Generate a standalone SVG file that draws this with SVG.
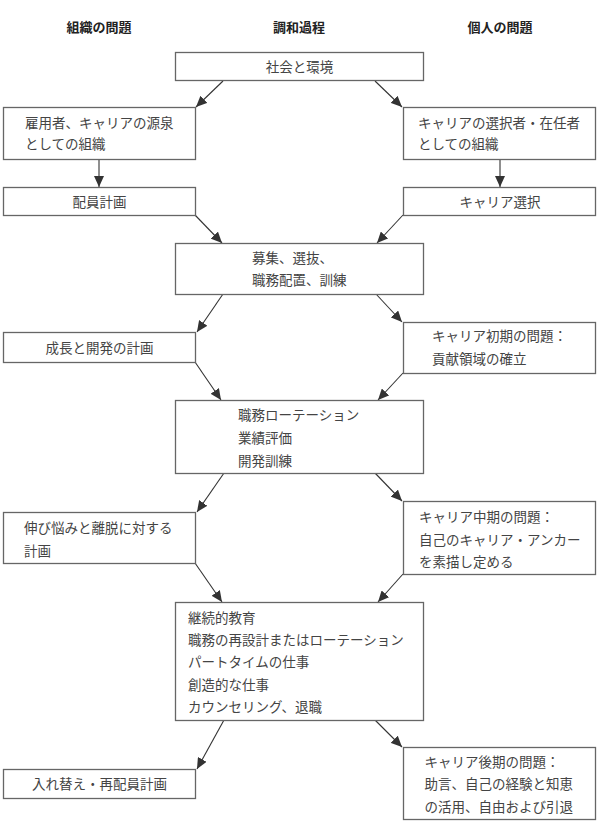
<svg xmlns="http://www.w3.org/2000/svg" width="597" height="832" viewBox="0 0 597 832">
<defs>
<marker id="ah" markerUnits="userSpaceOnUse" markerWidth="12" markerHeight="10" refX="11" refY="5" orient="auto">
<path d="M0,0 L11,5 L0,10 Z" fill="#333"/>
</marker>
<style>
.box{fill:#fff;stroke:#666;stroke-width:1.3}
.t{font-family:"Noto Sans CJK JP","Noto Sans CJK SC",sans-serif;font-size:13.5px;fill:#444}
.c{text-anchor:middle}
.h{font-family:"Noto Sans CJK JP","Noto Sans CJK SC",sans-serif;font-size:13px;font-weight:bold;fill:#222;text-anchor:middle}
.ln{stroke:#333;stroke-width:1.1;fill:none;marker-end:url(#ah)}
</style>
</defs>
<rect width="597" height="832" fill="#fff"/>
<g id="headers">
<text class="h" x="99" y="32">組織の問題</text>
<text class="h" x="299" y="32">調和過程</text>
<text class="h" x="500" y="32">個人の問題</text>
</g>
<g id="connectors">
<line class="ln" x1="223" y1="81" x2="196" y2="107"/>
<line class="ln" x1="375" y1="81" x2="402" y2="107"/>
<line class="ln" x1="99" y1="159" x2="99" y2="187"/>
<line class="ln" x1="500" y1="159" x2="500" y2="187"/>
<line class="ln" x1="195" y1="215" x2="222" y2="243"/>
<line class="ln" x1="403" y1="215" x2="377" y2="243"/>
<line class="ln" x1="223" y1="294" x2="197" y2="332"/>
<line class="ln" x1="376" y1="294" x2="402" y2="322"/>
<line class="ln" x1="195" y1="362" x2="221" y2="400"/>
<line class="ln" x1="403" y1="373" x2="378" y2="400"/>
<line class="ln" x1="224" y1="473" x2="197" y2="512"/>
<line class="ln" x1="375" y1="473" x2="402" y2="501"/>
<line class="ln" x1="195" y1="563" x2="222" y2="602"/>
<line class="ln" x1="403" y1="574" x2="378" y2="602"/>
<line class="ln" x1="224" y1="720" x2="197" y2="769"/>
<line class="ln" x1="375" y1="720" x2="402" y2="747"/>
</g>
<g id="n_society">
<rect class="box" x="175.5" y="52.5" width="248" height="28"/>
<text class="t c" x="299.5" y="72">社会と環境</text>
</g>
<g id="n_org_source">
<rect class="box" x="3.5" y="107.5" width="192" height="52"/>
<text class="t" x="25" y="128">雇用者、キャリアの源泉</text>
<text class="t" x="25" y="149">としての組織</text>
</g>
<g id="n_ind_chooser">
<rect class="box" x="403.5" y="107.5" width="192" height="52"/>
<text class="t" x="418" y="128">キャリアの選択者・在任者</text>
<text class="t" x="418" y="149">としての組織</text>
</g>
<g id="n_staffing">
<rect class="box" x="3.5" y="187.5" width="192" height="28"/>
<text class="t c" x="99.5" y="207">配員計画</text>
</g>
<g id="n_career_choice">
<rect class="box" x="403.5" y="187.5" width="192" height="28"/>
<text class="t c" x="500" y="207">キャリア選択</text>
</g>
<g id="n_recruit">
<rect class="box" x="175.5" y="243.5" width="248" height="51"/>
<text class="t" x="252" y="263">募集、選抜、</text>
<text class="t" x="252" y="285">職務配置、訓練</text>
</g>
<g id="n_growth">
<rect class="box" x="3.5" y="332.5" width="192" height="30"/>
<text class="t c" x="99.5" y="353">成長と開発の計画</text>
</g>
<g id="n_early">
<rect class="box" x="403.5" y="322.5" width="192" height="51"/>
<text class="t" x="432" y="341">キャリア初期の問題：</text>
<text class="t" x="432" y="364">貢献領域の確立</text>
</g>
<g id="n_rotation">
<rect class="box" x="175.5" y="400.5" width="248" height="73"/>
<text class="t" x="238" y="420">職務ローテーション</text>
<text class="t" x="238" y="443">業績評価</text>
<text class="t" x="238" y="466">開発訓練</text>
</g>
<g id="n_plateau">
<rect class="box" x="3.5" y="512.5" width="192" height="51"/>
<text class="t" x="24" y="533">伸び悩みと離脱に対する</text>
<text class="t" x="24" y="556">計画</text>
</g>
<g id="n_mid">
<rect class="box" x="403.5" y="501.5" width="192" height="73"/>
<text class="t" x="419" y="522">キャリア中期の問題：</text>
<text class="t" x="419" y="544.5">自己のキャリア・アンカー</text>
<text class="t" x="419" y="567">を素描し定める</text>
</g>
<g id="n_continuing">
<rect class="box" x="175.5" y="602.5" width="248" height="118"/>
<text class="t" x="188" y="623">継続的教育</text>
<text class="t" x="188" y="645">職務の再設計またはローテーション</text>
<text class="t" x="188" y="667">パートタイムの仕事</text>
<text class="t" x="188" y="689.5">創造的な仕事</text>
<text class="t" x="188" y="712">カウンセリング、退職</text>
</g>
<g id="n_replace">
<rect class="box" x="3.5" y="769.5" width="192" height="29"/>
<text class="t c" x="99.5" y="789">入れ替え・再配員計画</text>
</g>
<g id="n_late">
<rect class="box" x="403.5" y="747.5" width="192" height="72"/>
<text class="t" x="424.5" y="767">キャリア後期の問題：</text>
<text class="t" x="424.5" y="789">助言、自己の経験と知恵</text>
<text class="t" x="424.5" y="812">の活用、自由および引退</text>
</g>
</svg>
